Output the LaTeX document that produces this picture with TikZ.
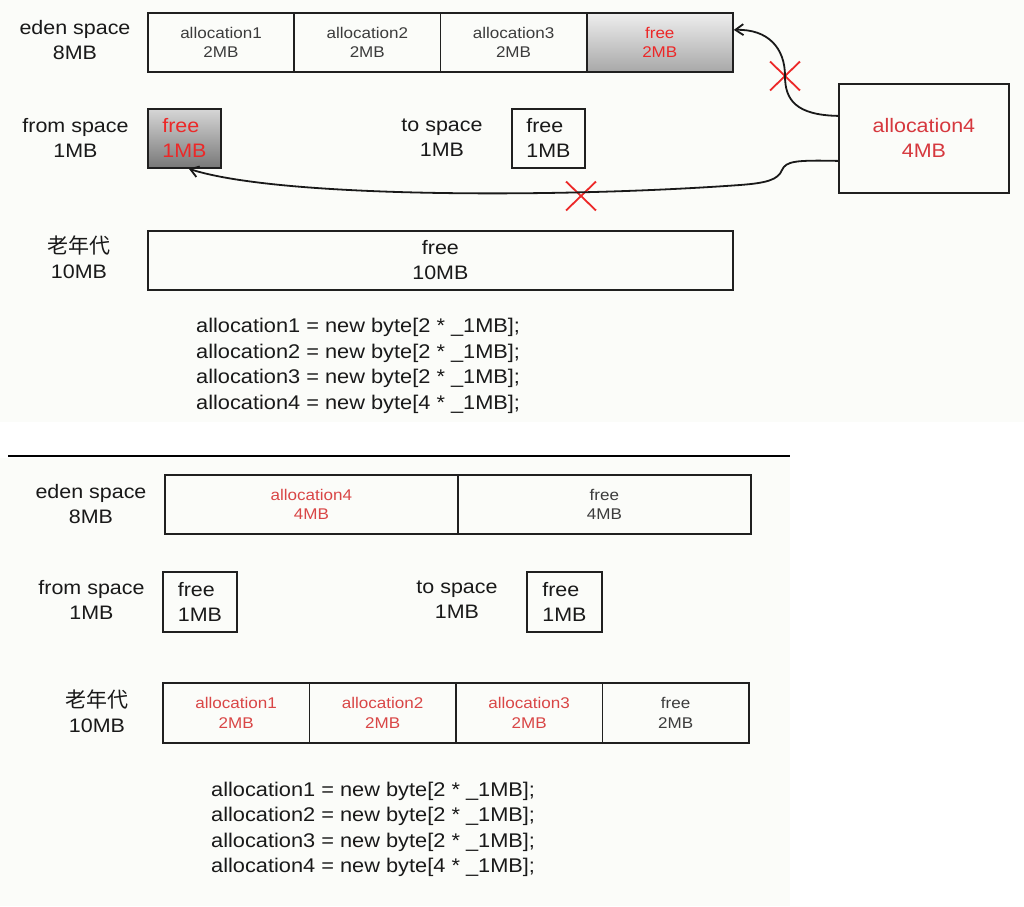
\documentclass[tikz,border=0pt]{standalone}
\usepackage{fontspec}
\setmainfont{Liberation Sans}[FakeStretch=1.1]
\newfontfamily\cjk{Noto Sans CJK SC}
\usetikzlibrary{arrows.meta,shapes.misc}
\definecolor{boxc}{RGB}{32,32,32}
\definecolor{txtc}{RGB}{25,25,25}
\definecolor{celltxt}{RGB}{60,60,60}
\definecolor{redA}{RGB}{236,40,40}
\definecolor{redB}{RGB}{214,56,62}
\definecolor{redC}{RGB}{217,70,70}
\definecolor{panel}{RGB}{251,252,249}
\definecolor{gtopA}{RGB}{238,238,238}
\definecolor{gbotA}{RGB}{168,168,168}
\definecolor{gtopB}{RGB}{214,214,214}
\definecolor{gbotB}{RGB}{120,120,120}
\newcommand\fBig{\fontsize{19.5}{25}\selectfont}
\newcommand\fSmall{\fontsize{15.5}{19.5}\selectfont}
\newcommand\fCJK{\cjk\fontsize{21}{25}\selectfont}
\begin{document}
\begin{tikzpicture}[x=1pt,y=-1pt,
 cell/.style={draw=boxc, line width=1.8pt, minimum height=59pt, inner sep=0pt, anchor=north west, align=center, font=\fSmall, text=celltxt},
 lbl/.style={align=center, font=\fBig, text=txtc, inner sep=0pt},
 code/.style={align=left, font=\fontsize{19.8}{25.5}\selectfont, text=txtc, anchor=west, inner sep=0pt},
 conn/.style={line width=1.8pt, draw=black!90, -{Straight Barb[length=8pt,width=11pt,line width=1.8pt]}},
 nope/.style={cross out, draw=redA, line width=1.8pt, minimum width=28pt, minimum height=27pt, inner sep=0pt},
]
\useasboundingbox (0,0) rectangle (1024,906);
\fill[panel] (0,0) rectangle (1024,422);
\fill[panel] (0,458) rectangle (790,906);

% ---------- top: before ----------
\node[lbl] (teL) at (75,40) {eden space\\8MB};
\node[cell, minimum width=146.25pt] (te1) at (147,12) {allocation1\\2MB};
\node[cell, minimum width=146.25pt] (te2) at (293.25,12) {allocation2\\2MB};
\node[cell, minimum width=146.25pt] (te3) at (439.5,12) {allocation3\\2MB};
\node[cell, minimum width=146.25pt, top color=gtopA, bottom color=gbotA, text=redA] (te4) at (585.75,12) {free\\2MB};

\node[lbl] (tfL) at (75.5,137.5) {from space\\1MB};
\node[cell, minimum width=73pt, top color=gtopB, bottom color=gbotB, text=redA, font=\fBig, align=left] (tfr) at (147,108) {free\\1MB};

\node[lbl] (ttL) at (442,137.5) {to space\\1MB};
\node[cell, minimum width=73pt, font=\fBig, text=txtc, align=left] (tto) at (511,108) {free\\1MB};

\node[draw=boxc, line width=1.8pt, minimum width=170pt, minimum height=109pt, inner sep=0pt, anchor=north west, align=center, font=\fBig, text=redB] (ta4) at (838,83) {allocation4\\4MB};

\node[lbl] (toL) at (79,257.5) {{\fCJK 老年代}\\10MB};
\node[cell, minimum width=585pt, font=\fBig, text=txtc] (told) at (147,230) {free\\10MB};

\node[code] (tcode) at (196,366) {allocation1 = new byte[2 * \_1MB];\\allocation2 = new byte[2 * \_1MB];\\allocation3 = new byte[2 * \_1MB];\\allocation4 = new byte[4 * \_1MB];};

\node[nope] (x1) at (785,76) {};
\node[nope] (x2) at (581,196) {};

\draw[conn] ([yshift=22.5pt]ta4.west) .. controls (796,115) and (785,100) .. (x1.center) .. controls (785,48) and (768,29) .. ([yshift=12.5pt]te4.east);
\draw[conn] ([yshift=-22.5pt]ta4.west) .. controls (796,160) and (786,161) .. (782,170) .. controls (778,180) and (766,183) .. (740,185) .. controls (560,198) and (280,198) .. ([xshift=4.5pt]tfr.south);

% divider
\draw[line width=1.5pt, black] (8,456) -- (790,456);

% ---------- bottom: after ----------
\node[lbl] (beL) at (91,504) {eden space\\8MB};
\node[cell, minimum width=293pt, text=redC] (be1) at (164,474) {allocation4\\4MB};
\node[cell, minimum width=293pt] (be2) at (457,474) {free\\4MB};

\node[lbl] (bfL) at (91.5,600) {from space\\1MB};
\node[cell, minimum width=74pt, minimum height=60pt, font=\fBig, text=txtc, align=left] (bfr) at (162,571) {free\\1MB};

\node[lbl] (btL) at (457,600) {to space\\1MB};
\node[cell, minimum width=75pt, minimum height=60pt, font=\fBig, text=txtc, align=left] (bto) at (526,571) {free\\1MB};

\node[lbl] (boL) at (97,711) {{\fCJK 老年代}\\10MB};
\node[cell, minimum width=146.5pt, minimum height=60pt, text=redC] (bo1) at (162,682) {allocation1\\2MB};
\node[cell, minimum width=146.5pt, minimum height=60pt, text=redC] (bo2) at (308.5,682) {allocation2\\2MB};
\node[cell, minimum width=146.5pt, minimum height=60pt, text=redC] (bo3) at (455,682) {allocation3\\2MB};
\node[cell, minimum width=146.5pt, minimum height=60pt] (bo4) at (601.5,682) {free\\2MB};

\node[code] (bcode) at (211,829.5) {allocation1 = new byte[2 * \_1MB];\\allocation2 = new byte[2 * \_1MB];\\allocation3 = new byte[2 * \_1MB];\\allocation4 = new byte[4 * \_1MB];};
\end{tikzpicture}
\end{document}
